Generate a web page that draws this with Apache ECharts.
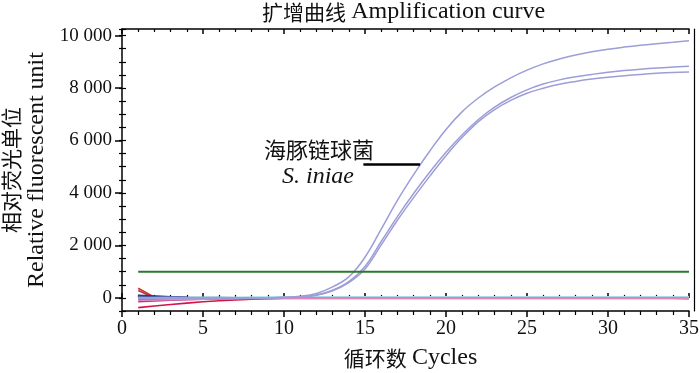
<!DOCTYPE html>
<html>
<head>
<meta charset="utf-8">
<script src="https://cdn.jsdelivr.net/npm/echarts@6/dist/echarts.min.js"></script>
<style>html,body{margin:0;padding:0;background:#fff}#c{width:700px;height:373px}</style>
</head>
<body>
<div id="c"></div>
<script>
// ---- data ----
const cycles = [1,2,3,4,5,6,7,8,9,10,11,12,13,14,15,16,17,18,19,20,21,22,23,24,25,26,27,28,29,30,31,32,33,34,35];
const siniae1 = [-20,-10,-10,0,0,0,0,0,5,20,60,170,420,800,1550,2620,3720,4700,5600,6420,7100,7620,8040,8390,8680,8920,9110,9260,9380,9480,9560,9630,9690,9745,9800];
const siniae2 = [10,0,0,0,0,0,0,0,5,15,40,110,290,620,1200,2150,3100,3980,4800,5550,6220,6800,7270,7640,7930,8150,8310,8430,8520,8600,8665,8720,8765,8800,8830];
const siniae3 = [0,0,0,0,0,0,0,0,5,10,35,100,270,580,1100,2020,2960,3820,4640,5420,6120,6720,7180,7530,7800,7990,8140,8250,8340,8410,8470,8520,8560,8590,8610];
const baseRed1 = [370,30,10,5,0,0,0,0,0,0,0,0,0,0,0,0,0,0,0,0,0,0,0,0,0,0,0,0,0,0,0,0,0,0,0];
const baseRed2 = [280,0,0,0,0,0,0,0,0,0,0,0,0,0,0,0,0,0,0,0,0,0,0,0,0,0,0,0,0,0,0,0,0,0,0];
const baseCrimson = [-370,-310,-250,-200,-150,-110,-80,-50,-30,-10,0,0,0,0,0,0,0,0,0,0,0,0,0,0,0,0,0,0,0,0,0,0,0,0,0];
const baseNavy = [100,70,40,20,10,10,5,0,0,0,0,0,0,10,25,30,30,30,25,5,0,0,0,0,0,0,0,0,0,0,0,0,0,0,0];
const baseNavy2 = [30,30,20,10,5,0,0,0,0,0,0,0,0,0,0,0,0,0,0,0,0,0,0,0,0,0,0,0,0,0,0,0,0,0,0];
const baseBlue = [60,50,30,15,5,0,0,0,0,0,0,0,0,0,0,0,0,0,0,0,0,0,0,0,0,0,0,0,0,0,0,0,0,0,0];
const baseDarkBlue = [-30,-20,-10,0,0,0,0,0,0,0,0,0,0,0,0,0,0,0,0,0,0,0,0,0,0,0,0,0,0,0,0,0,0,0,0];
const baseTeal = [-60,-60,-50,-40,-30,-20,-10,0,0,0,0,0,0,0,0,0,0,0,0,0,0,0,0,0,0,0,0,0,0,0,0,0,0,0,0];
const baseCyan = [0,0,10,10,20,20,25,30,35,40,40,40,40,40,40,40,40,40,40,40,40,40,40,40,40,40,40,40,40,40,40,40,40,40,40];
const baseMagenta = [-150,-120,-90,-70,-50,-40,-30,-25,-25,-25,-25,-25,-25,-25,-25,-25,-25,-25,-25,-25,-25,-25,-25,-25,-25,-25,-25,-25,-25,-25,-25,-25,-25,-25,-35];
const basePink = [-90,-80,-70,-60,-50,-40,-30,-25,-20,-15,-15,-15,-15,-15,-15,-15,-15,-15,-15,-15,-15,-15,-15,-15,-15,-15,-15,-15,-15,-15,-15,-15,-15,-15,-25];
const threshold = 1000;
const xTicks = [0,5,10,15,20,25,30,35];
const yTicks = [0,2000,4000,6000,8000,10000];
const labelStrain = '海豚链球菌';
const labelStrainLatin = 'S. iniae';
const annotY = 5100, annotX0 = 14.9, annotX1 = 18.4;

// ---- chart ----
const FONT = "'Liberation Serif', 'Noto Sans CJK SC', serif";
const chart = echarts.init(document.getElementById('c'), null, {renderer: 'canvas'});
const fmt = v => String(v).replace(/\B(?=(\d{3})+(?!\d))/g, ' ');
const pts = arr => cycles.map((c, i) => [c, arr[i]]);
const baseSeries = [
  [baseRed1, '#c0392b'], [baseRed2, '#b8323a'], [baseCrimson, '#d0144a'],
  [baseNavy, '#1e2470'], [baseNavy2, '#23286e'], [baseTeal, '#3a9a8a'], [baseBlue, '#4a5aa8'], [baseDarkBlue, '#2b3d8f'],
  [baseCyan, '#a8dce6'], [baseMagenta, '#b03c8c'], [basePink, '#e585bb']
].map(([arr, col]) => ({
  type: 'line', data: pts(arr), symbol: 'none', silent: true,
  lineStyle: {color: col, width: 1.6}, xAxisIndex: 0, yAxisIndex: 0, z: 2
}));
const curveSeries = [siniae1, siniae2, siniae3].map(arr => ({
  type: 'line', data: pts(arr), symbol: 'none', smooth: 0.4, silent: true,
  lineStyle: {color: '#9d9dd8', width: 1.5}, xAxisIndex: 0, yAxisIndex: 0, z: 3
}));
const axisBase = {
  type: 'value', splitLine: {show: false}, axisLine: {show: false},
  axisLabel: {show: false}, axisTick: {show: false}, minorTick: {show: false}
};
const lineStyleAxis = {color: '#000', width: 1.5};
const rich = {
  c: {fontFamily: "'Noto Sans CJK SC'", fontSize: 21, color: '#111'},
  l: {fontFamily: "'Liberation Serif'", fontSize: 24, color: '#111'}
};
chart.setOption({
  animation: false,
  title: {
    text: '{c|扩增曲线} {l|Amplification curve}', left: 262, top: 0, padding: 0,
    textStyle: {fontFamily: FONT, fontSize: 21, fontWeight: 'normal', color: '#111', rich: rich}
  },
  grid: {left: 122, right: 11, top: 29, bottom: 62, outerBoundsMode: 'none'},
  xAxis: [
    Object.assign({}, axisBase, {
      position: 'bottom', min: 0, max: 35, interval: 5,
      axisLine: {show: true, onZero: false, lineStyle: lineStyleAxis},
      axisTick: {show: true, inside: false, length: 6, lineStyle: lineStyleAxis},
      minorTick: {show: true, splitNumber: 5, length: 4, lineStyle: {color: '#000', width: 1.2}},
      axisLabel: {show: true, margin: 8, fontFamily: FONT, fontSize: 20, color: '#111',
        customValues: xTicks},
      name: '{c|循环数} {l|Cycles}', nameLocation: 'middle', nameGap: 35,
      nameTextStyle: {fontFamily: FONT, fontSize: 21, color: '#111', rich: rich, padding: [0, 0, 0, 10]}
    }),
    Object.assign({}, axisBase, {
      position: 'bottom', min: 0, max: 35, interval: 5,
      axisTick: {show: true, inside: true, length: 5, lineStyle: lineStyleAxis},
      minorTick: {show: true, splitNumber: 5, length: 3, lineStyle: {color: '#000', width: 1.2}}
    }),
    Object.assign({}, axisBase, {
      position: 'top', min: 0, max: 35, interval: 5,
      axisLine: {show: true, onZero: false, lineStyle: lineStyleAxis},
      axisTick: {show: true, inside: true, length: 5, lineStyle: lineStyleAxis},
      minorTick: {show: true, splitNumber: 5, length: 3, lineStyle: {color: '#000', width: 1.2}}
    })
  ],
  yAxis: [
    Object.assign({}, axisBase, {
      position: 'left', min: -500, max: 10250,
      axisLine: {show: true, onZero: false, lineStyle: lineStyleAxis},
      axisTick: {show: true, inside: false, length: 7, lineStyle: lineStyleAxis, customValues: yTicks},
      axisLabel: {show: true, margin: 10, fontFamily: FONT, fontSize: 19, color: '#111',
        formatter: fmt, customValues: yTicks},
      name: '{c|相对荧光单位}\n{l|Relative fluorescent unit}', nameLocation: 'middle', nameRotate: 90, nameGap: 72,
      nameTextStyle: {fontFamily: FONT, fontSize: 20, color: '#111', lineHeight: 25,
        rich: {c: Object.assign({}, rich.c, {lineHeight: 25}), l: Object.assign({}, rich.l, {lineHeight: 25})}}
    }),
    Object.assign({}, axisBase, {
      position: 'left', min: -500, max: 10250, interval: 500,
      axisTick: {show: true, inside: false, length: 3, lineStyle: {color: '#000', width: 1.2}}
    }),
    Object.assign({}, axisBase, {
      position: 'left', min: -500, max: 10250, interval: 500,
      axisTick: {show: true, inside: true, length: 4, lineStyle: {color: '#000', width: 1.2}}
    }),
    Object.assign({}, axisBase, {
      position: 'right', offset: 5, min: -500, max: 10250,
      axisLine: {show: true, onZero: false, lineStyle: {color: '#000', width: 1.2}}
    })
  ],
  series: baseSeries.concat(curveSeries).concat([
    {
      type: 'line', data: pts(cycles.map(() => threshold)), symbol: 'none', silent: true,
      lineStyle: {color: '#2b7a2b', width: 2}, z: 4,
      markLine: {
        silent: true, symbol: 'none', animation: false, label: {show: false},
        lineStyle: {color: '#000', width: 2.5, type: 'solid'},
        data: [[{coord: [annotX0, annotY]}, {coord: [annotX1, annotY]}]]
      }
    }
  ]),
  graphic: [
    {type: 'text', left: 264, top: 139, style: {text: labelStrain, font: "22px 'Noto Sans CJK SC'", fill: '#111'}},
    {type: 'text', left: 282, top: 165, style: {text: labelStrainLatin, font: "italic 24px 'Liberation Serif'", fill: '#111'}}
  ]
});
</script>
</body>
</html>
